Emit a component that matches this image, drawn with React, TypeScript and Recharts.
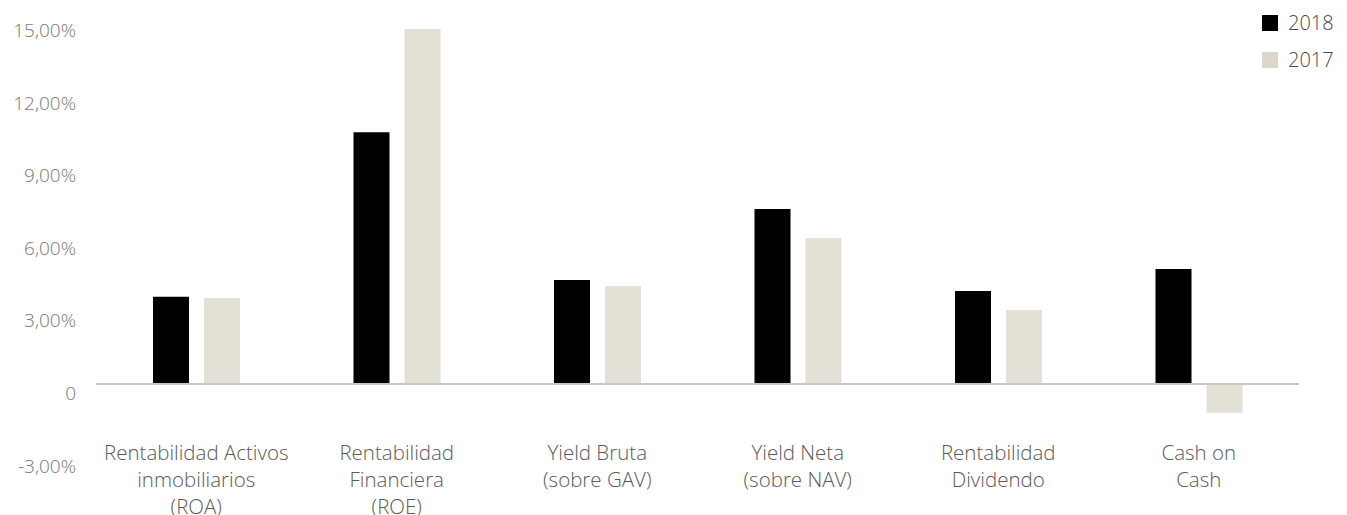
import { BarChart, Bar, XAxis, YAxis, ReferenceLine } from "recharts";

const categories = [
  "Rentabilidad Activos\ninmobiliarios\n(ROA)",
  "Rentabilidad\nFinanciera\n(ROE)",
  "Yield Bruta\n(sobre GAV)",
  "Yield Neta\n(sobre NAV)",
  "Rentabilidad\nDividendo",
  "Cash on\nCash",
];
const values2018 = [3.6, 10.4, 4.3, 7.23, 3.84, 4.75];
const values2017 = [3.55, 14.67, 4.05, 6.03, 3.06, -1.19];
const yTicks = [-3, 0, 3, 6, 9, 12, 15];
const seriesNames = ["2018", "2017"];
const seriesColors = ["#000000", "#e3e0d6"];

const FONT = "'Open Sans', sans-serif";

const chartData = categories.map((name, i) => ({
  name,
  v2018: values2018[i],
  v2017: values2017[i],
}));

const fmtY = (v: number) =>
  v === 0 ? "0" : `${v.toFixed(2).replace(".", ",")}%`;

function YTick({ x, y, payload }: any) {
  return (
    <text
      x={x}
      y={y + 9}
      textAnchor="end"
      dominantBaseline="central"
      fill="#777777"
      fontSize={19}
      fontWeight={300}
      fontFamily={FONT}
    >
      {fmtY(payload.value)}
    </text>
  );
}

function XTick({ x, y, payload }: any) {
  const lines = String(payload.value).split("\n");
  return (
    <text
      x={x}
      y={y}
      textAnchor="middle"
      fill="#595959"
      fontSize={20.5}
      fontWeight={300}
      fontFamily={FONT}
    >
      {lines.map((line, i) => (
        <tspan key={i} x={x} y={y - 4.5 + i * 27} dominantBaseline="central">
          {line}
        </tspan>
      ))}
    </text>
  );
}

export default function App() {
  return (
    <div style={{ position: "absolute", left: 0, top: 0, width: 1347, height: 515 }}>
      <BarChart
        width={1347}
        height={515}
        data={chartData}
        margin={{ top: 21, right: 48, bottom: 0, left: 0 }}
        barSize={36}
        barGap={15}
      >
        <XAxis
          dataKey="name"
          axisLine={false}
          tickLine={false}
          tickSize={0}
          tickMargin={0}
          height={58.5}
          interval={0}
          tick={<XTick />}
        />
        <YAxis
          domain={[-3, 15]}
          ticks={yTicks}
          axisLine={false}
          tickLine={false}
          tickSize={0}
          tickMargin={20}
          width={96}
          tick={<YTick />}
        />
        <ReferenceLine y={0} stroke="#c8c8c8" strokeWidth={2} />
        <Bar dataKey="v2018" name={seriesNames[0]} fill={seriesColors[0]} isAnimationActive={false} />
        <Bar dataKey="v2017" name={seriesNames[1]} fill={seriesColors[1]} isAnimationActive={false} />
      </BarChart>
      <div style={{ position: "absolute", left: 1262, top: 4, fontFamily: FONT, fontWeight: 300, fontSize: 20, color: "#4a4a4a" }}>
        {seriesNames.map((name, i) => (
          <div key={name} style={{ display: "flex", alignItems: "center", height: 37 }}>
            <span style={{ width: 16, height: 16, background: i === 1 ? "#dcd7ca" : seriesColors[i], marginRight: 10 }} />
            <span>{name}</span>
          </div>
        ))}
      </div>
    </div>
  );
}
